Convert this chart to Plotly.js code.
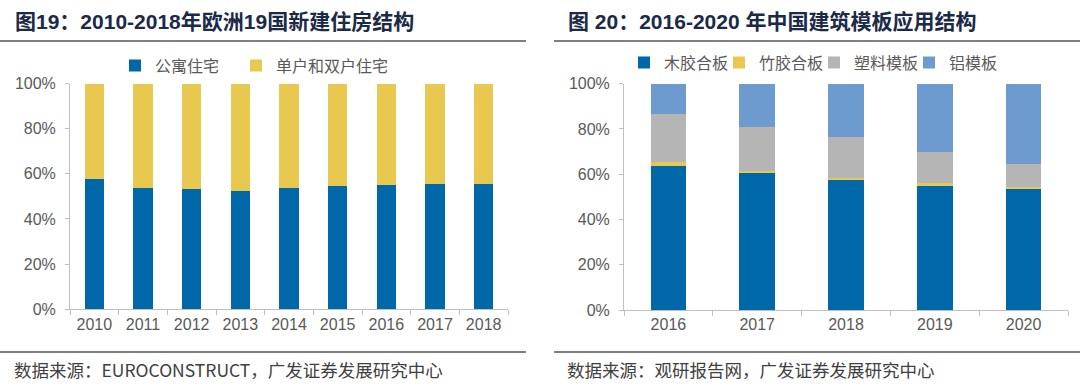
<!DOCTYPE html>
<html>
<head>
<meta charset="utf-8">
<script src="https://cdn.plot.ly/plotly-3.0.1.min.js"></script>
<style>html,body{margin:0;padding:0;background:#fff;}#chart{width:1080px;height:391px;}</style>
</head>
<body>
<div id="chart"></div>
<script>
// ---- Data: left chart (图19) ----
var yearsEU = ['2010','2011','2012','2013','2014','2015','2016','2017','2018'];
var apartmentShare = [0.575, 0.538, 0.532, 0.526, 0.538, 0.545, 0.552, 0.557, 0.557];
var houseShare = [0.425, 0.462, 0.468, 0.474, 0.462, 0.455, 0.448, 0.443, 0.443];
var seriesEU = ['公寓住宅', '单户和双户住宅'];

// ---- Data: right chart (图20) ----
var yearsCN = ['2016','2017','2018','2019','2020'];
var woodPlywood = [0.635, 0.604, 0.574, 0.546, 0.535];
var bambooPlywood = [0.021, 0.012, 0.011, 0.016, 0.008];
var plasticForm = [0.212, 0.194, 0.180, 0.138, 0.104];
var aluminumForm = [0.132, 0.190, 0.235, 0.300, 0.353];
var seriesCN = ['木胶合板', '竹胶合板', '塑料模板', '铝模板'];

var yTickVals = [0, 0.2, 0.4, 0.6, 0.8, 1.0];
var yTickText = ['0%', '20%', '40%', '60%', '80%', '100%'];

var titleLeft = '图19：2010-2018年欧洲19国新建住房结构';
var titleRight = '图 20：2016-2020 年中国建筑模板应用结构';
var sourceLeft = '数据来源：EUROCONSTRUCT，广发证券发展研究中心';
var sourceRight = '数据来源：观研报告网，广发证券发展研究中心';

var W = 1080, H = 391;
function px(x){ return x / W; }
function py(y){ return 1 - y / H; }

var cDark = '#0068a9', cYellow = '#e9c84f', cGray = '#b5b5b5', cLight = '#6e9bcf';
var tickFont = {family: 'Liberation Sans, Arial, sans-serif', size: 16, color: '#595959'};
var legFont = {family: 'Noto Sans CJK SC, sans-serif', size: 16, color: '#595959'};
var axisColor = '#bfbfbf';

var traces = [
  {type: 'bar', name: seriesEU[0], x: yearsEU, y: apartmentShare, marker: {color: cDark}, xaxis: 'x', yaxis: 'y', legend: 'legend', width: 0.4},
  {type: 'bar', name: seriesEU[1], x: yearsEU, y: houseShare, marker: {color: cYellow}, xaxis: 'x', yaxis: 'y', legend: 'legend3', width: 0.4},
  {type: 'bar', name: seriesCN[0], x: yearsCN, y: woodPlywood, marker: {color: cDark}, xaxis: 'x2', yaxis: 'y2', legend: 'legend2', width: 0.4},
  {type: 'bar', name: seriesCN[1], x: yearsCN, y: bambooPlywood, marker: {color: cYellow}, xaxis: 'x2', yaxis: 'y2', legend: 'legend2', width: 0.4},
  {type: 'bar', name: seriesCN[2], x: yearsCN, y: plasticForm, marker: {color: cGray}, xaxis: 'x2', yaxis: 'y2', legend: 'legend2', width: 0.4},
  {type: 'bar', name: seriesCN[3], x: yearsCN, y: aluminumForm, marker: {color: cLight}, xaxis: 'x2', yaxis: 'y2', legend: 'legend2', width: 0.4}
];

function xAxis(dom, anchor){
  return {domain: dom, anchor: anchor, type: 'category', showline: true, linecolor: axisColor, linewidth: 1,
    ticks: 'outside', tickson: 'boundaries', ticklen: 5, tickcolor: axisColor, tickfont: tickFont,
    showgrid: false, zeroline: false, fixedrange: true};
}
function yAxis(dom, anchor){
  return {domain: dom, anchor: anchor, range: [0, 1], tickvals: yTickVals, ticktext: yTickText,
    showline: true, linecolor: axisColor, linewidth: 1, ticks: 'outside', ticklen: 4, tickcolor: axisColor,
    tickfont: tickFont, showgrid: false, zeroline: false, fixedrange: true, ticklabelstandoff: 6};
}
function legendAt(x, y, ew){
  var o = {orientation: 'h', x: px(x), y: py(y), xanchor: 'left', yanchor: 'middle', font: legFont,
    bgcolor: 'rgba(0,0,0,0)', itemwidth: 30, traceorder: 'normal'};
  if (ew) o.entrywidth = ew;
  return o;
}

var titleFont = {family: 'Liberation Sans, Noto Sans CJK SC, sans-serif', size: 21, color: '#1b2a47', weight: 'bold'};
var srcFont = {family: 'Noto Sans CJK SC, Liberation Sans, sans-serif', size: 17.5, color: '#404040'};

var layout = {
  width: W, height: H,
  margin: {l: 0, r: 0, t: 0, b: 0},
  paper_bgcolor: '#ffffff', plot_bgcolor: '#ffffff',
  barmode: 'stack', showlegend: true,
  xaxis: xAxis([px(70), px(508)], 'y'),
  yaxis: yAxis([py(309.3), py(83.5)], 'x'),
  xaxis2: xAxis([px(624), px(1068)], 'y2'),
  yaxis2: yAxis([py(310), py(83.7)], 'x2'),
  legend: legendAt(115, 65.5),
  legend3: legendAt(236, 65.5),
  legend2: legendAt(624, 62.7, 50),
  annotations: [
    {text: '<b>' + titleLeft + '</b>', xref: 'paper', yref: 'paper', x: px(13), y: py(22), xanchor: 'left', yanchor: 'middle', showarrow: false, font: titleFont},
    {text: '<b>' + titleRight + '</b>', xref: 'paper', yref: 'paper', x: px(566), y: py(22), xanchor: 'left', yanchor: 'middle', showarrow: false, font: titleFont},
    {text: sourceLeft, xref: 'paper', yref: 'paper', x: px(12), y: py(369), xanchor: 'left', yanchor: 'middle', showarrow: false, font: srcFont},
    {text: sourceRight, xref: 'paper', yref: 'paper', x: px(565), y: py(369), xanchor: 'left', yanchor: 'middle', showarrow: false, font: srcFont}
  ],
  shapes: [
    {type: 'line', xref: 'paper', yref: 'paper', x0: 0, x1: px(526), y0: py(41), y1: py(41), line: {color: '#555555', width: 1.5}},
    {type: 'line', xref: 'paper', yref: 'paper', x0: px(554), x1: 1, y0: py(41), y1: py(41), line: {color: '#555555', width: 1.5}},
    {type: 'line', xref: 'paper', yref: 'paper', x0: 0, x1: px(526), y0: py(352), y1: py(352), line: {color: '#555555', width: 1.5}},
    {type: 'line', xref: 'paper', yref: 'paper', x0: px(554), x1: 1, y0: py(352), y1: py(352), line: {color: '#555555', width: 1.5}}
  ]
};

Plotly.newPlot('chart', traces, layout, {displayModeBar: false, staticPlot: true});
</script>
</body>
</html>
